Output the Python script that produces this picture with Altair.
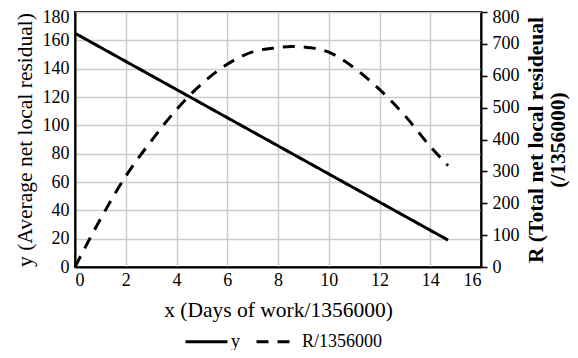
import altair as alt
import pandas as pd

# Data
x_line = [0, 14.7]
y_line = [165, 19]

x_R = [0, 1, 2, 3, 4, 5, 6, 7, 8, 8.5, 9, 10, 11, 12, 13, 14, 14.7]
R_vals = [0, 150, 285, 395, 494, 575, 636, 675, 688, 692, 690, 674, 625, 557, 475, 378, 318]

series_names = ["y", "R/1356000"]
x_ticks = [0, 2, 4, 6, 8, 10, 12, 14, 16]
y_left_ticks = [0, 20, 40, 60, 80, 100, 120, 140, 160, 180]
y_right_ticks = [0, 100, 200, 300, 400, 500, 600, 700, 800]

df_y = pd.DataFrame({"x": x_line, "v": y_line, "s": series_names[0]})
df_R = pd.DataFrame({"x": x_R, "v": R_vals, "s": series_names[1]})

FONT = "Liberation Serif"

dash_scale = alt.Scale(domain=series_names, range=[[1, 0], [12, 9]])

x_enc = alt.X(
    "x:Q",
    scale=alt.Scale(domain=[0, 16], nice=False),
    axis=alt.Axis(values=x_ticks, title="x (Days of work/1356000)", grid=True,
                  ticks=False, labelPadding=4, titlePadding=10),
)

legend = alt.Legend(
    title=None, orient="none", direction="horizontal", legendX=109, legendY=307,
    padding=0, symbolType="stroke", symbolSize=1764, symbolStrokeWidth=3,
    symbolStrokeColor="black", labelFont=FONT, labelFontSize=18,
    labelColor="black", columnPadding=10, labelOffset=2,
)

top_offset_left = alt.condition("datum.value == 180", alt.value(5), alt.value(0))
top_offset_right = alt.condition("datum.value == 800", alt.value(5), alt.value(0))

line_y = alt.Chart(df_y).mark_line(color="black", strokeWidth=3).encode(
    x=x_enc,
    y=alt.Y("v:Q", scale=alt.Scale(domain=[0, 180], nice=False),
            axis=alt.Axis(values=y_left_ticks, orient="left", grid=True, ticks=False,
                          title="y (Average net local residual)", labelPadding=6,
                          labelOffset=top_offset_left, titlePadding=6)),
    strokeDash=alt.StrokeDash("s:N", scale=dash_scale, legend=legend),
)

line_R = alt.Chart(df_R).mark_line(color="black", strokeWidth=3,
                                   interpolate="monotone").encode(
    x=x_enc,
    y=alt.Y("v:Q", scale=alt.Scale(domain=[0, 800], nice=False),
            axis=alt.Axis(values=y_right_ticks, orient="right", grid=False, ticks=True,
                          tickSize=6, tickWidth=1.5, tickColor="black",
                          title=["R (Total net local resideual", "(/1356000)"],
                          titleAngle=270, titleFontWeight="bold", titleLineHeight=22,
                          labelPadding=5, labelOffset=top_offset_right,
                          titlePadding=6)),
    strokeDash=alt.StrokeDash("s:N", scale=dash_scale, legend=legend),
)

chart = (
    alt.layer(line_y, line_R)
    .resolve_scale(y="independent")
    .properties(width=406, height=255, autosize="none",
                padding={"left": 67, "top": 4, "right": 89, "bottom": 83})
    .configure_view(stroke="black", strokeWidth=2)
    .configure_axis(
        labelFont=FONT, labelFontSize=18, labelColor="black",
        titleFont=FONT, titleFontSize=21.5, titleColor="black", titleFontWeight="normal",
        domainColor="black", domainWidth=2, gridColor="#cccccc", gridWidth=1.5,
    )
)

chart.save("out.html", embed_options={"renderer": "svg", "actions": False})
